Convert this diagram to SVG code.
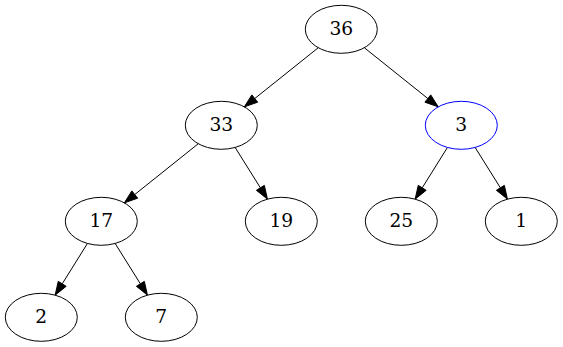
<svg xmlns="http://www.w3.org/2000/svg" width="563" height="347" viewBox="0 0 563 347">
<style>
.n ellipse{fill:none;stroke:#000;stroke-width:1}
.n text{font-family:"DejaVu Serif","Liberation Serif",serif;font-size:18.67px;text-anchor:middle;fill:#000}
#edges line{stroke:#000;stroke-width:1}
#edges polygon{fill:#000;stroke:#000;stroke-width:1}
</style>
<rect width="563" height="347" fill="#fff"/>
<g id="edges">
<line x1="318.25" y1="47.74" x2="254.76" y2="98.53"/>
<polygon points="251.84,94.88 257.68,102.18 244.35,106.86"/>
<line x1="364.35" y1="47.74" x2="427.84" y2="98.53"/>
<polygon points="424.92,102.18 430.76,94.88 438.25,106.86"/>
<line x1="198.25" y1="143.74" x2="134.76" y2="194.53"/>
<polygon points="131.84,190.88 137.68,198.18 124.35,202.86"/>
<line x1="235.15" y1="147.46" x2="260.38" y2="187.83"/>
<polygon points="256.42,190.31 264.34,185.36 267.45,199.14"/>
<line x1="447.45" y1="147.46" x2="422.22" y2="187.83"/>
<polygon points="418.26,185.36 426.18,190.31 415.15,199.14"/>
<line x1="475.15" y1="147.46" x2="500.38" y2="187.83"/>
<polygon points="496.42,190.31 504.34,185.36 507.45,199.14"/>
<line x1="87.45" y1="243.46" x2="62.22" y2="283.83"/>
<polygon points="58.26,281.36 66.18,286.31 55.15,295.14"/>
<line x1="115.15" y1="243.46" x2="140.38" y2="283.83"/>
<polygon points="136.42,286.31 144.34,281.36 147.45,295.14"/>
</g>
<g id="n36" class="n"><ellipse cx="341.3" cy="29.3" rx="36" ry="24"/><text x="341.3" y="34.9">36</text></g>
<g id="n33" class="n"><ellipse cx="221.3" cy="125.3" rx="36" ry="24"/><text x="221.3" y="130.9">33</text></g>
<g id="n3" class="n"><ellipse cx="461.3" cy="125.3" rx="36" ry="24" style="stroke:#00f"/><text x="461.3" y="130.9">3</text></g>
<g id="n17" class="n"><ellipse cx="101.3" cy="221.3" rx="36" ry="24"/><text x="101.3" y="226.9">17</text></g>
<g id="n19" class="n"><ellipse cx="281.3" cy="221.3" rx="36" ry="24"/><text x="281.3" y="226.9">19</text></g>
<g id="n25" class="n"><ellipse cx="401.3" cy="221.3" rx="36" ry="24"/><text x="401.3" y="226.9">25</text></g>
<g id="n1" class="n"><ellipse cx="521.3" cy="221.3" rx="36" ry="24"/><text x="521.3" y="226.9">1</text></g>
<g id="n2" class="n"><ellipse cx="41.3" cy="317.3" rx="36" ry="24"/><text x="41.3" y="322.9">2</text></g>
<g id="n7" class="n"><ellipse cx="161.3" cy="317.3" rx="36" ry="24"/><text x="161.3" y="322.9">7</text></g>
</svg>
